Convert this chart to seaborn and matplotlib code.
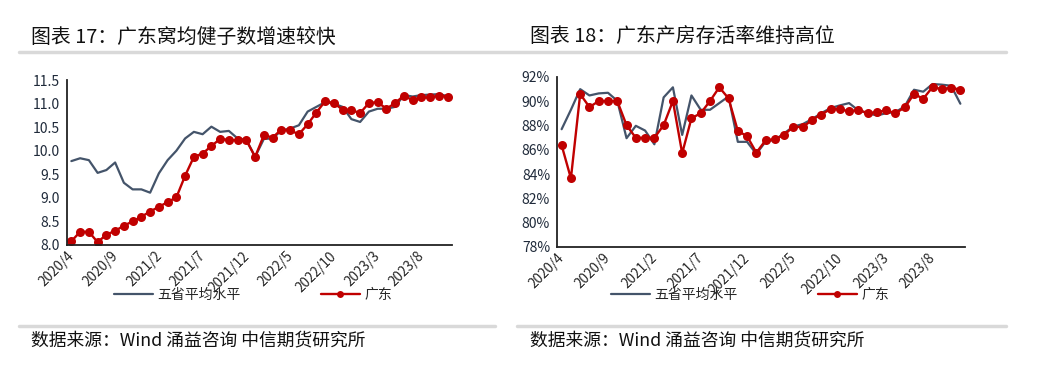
import numpy as np
import pandas as pd
import matplotlib.pyplot as plt
import seaborn as sns
from matplotlib.lines import Line2D

# === 1. Dados ===
meses = pd.period_range("2020-04", "2023-11", freq="M")
rotulos_meses = [f"{p.year}/{p.month}" for p in meses]

ninhada_gd = [8.08, 8.28, 8.28, 8.06, 8.22, 8.30, 8.41, 8.50, 8.60, 8.71,
              8.81, 8.91, 9.01, 9.47, 9.87, 9.94, 10.10, 10.25, 10.23, 10.22,
              10.22, 9.87, 10.33, 10.28, 10.45, 10.43, 10.35, 10.56, 10.81, 11.05,
              11.01, 10.87, 10.86, 10.80, 11.01, 11.03, 10.89, 11.01, 11.17, 11.07,
              11.13, 11.13, 11.17, 11.15]
ninhada_media = [9.78, 9.84, 9.80, 9.53, 9.59, 9.75, 9.32, 9.18, 9.18, 9.11,
                 9.52, 9.80, 10.00, 10.26, 10.40, 10.35, 10.51, 10.40, 10.42, 10.26,
                 10.23, 9.87, 10.25, 10.26, 10.43, 10.47, 10.54, 10.83, 10.93, 11.03,
                 11.00, 10.93, 10.67, 10.61, 10.83, 10.89, 10.89, 10.93, 11.18, 11.15,
                 11.18, 11.19, 11.20, 11.16]

sobrev_gd = [86.38, 83.65, 90.60, 89.52, 90.02, 90.02, 90.02, 88.03, 86.99, 86.99,
             86.99, 88.03, 90.02, 85.72, 88.60, 89.02, 90.02, 91.15, 90.24, 87.56,
             87.12, 85.77, 86.79, 86.88, 87.23, 87.92, 87.86, 88.47, 88.91, 89.36,
             89.36, 89.16, 89.30, 89.02, 89.11, 89.25, 89.02, 89.49, 90.60, 90.21,
             91.17, 91.00, 91.12, 90.95]
sobrev_media = [87.70, 89.30, 91.00, 90.48, 90.65, 90.70, 90.04, 86.96, 87.98, 87.59,
                86.46, 90.32, 91.15, 87.23, 90.48, 89.30, 89.30, 89.85, 90.40, 86.66,
                86.66, 85.66, 86.69, 86.82, 87.37, 87.92, 88.12, 88.53, 89.02, 89.44,
                89.66, 89.85, 89.25, 89.02, 88.83, 89.02, 89.11, 89.58, 90.95, 90.79,
                91.42, 91.37, 91.28, 89.80]

titulos = ["图表 17：广东窝均健子数增速较快", "图表 18：广东产房存活率维持高位"]
fonte = "数据来源：Wind 涌益咨询 中信期货研究所"
nome_media = "五省平均水平"
nome_gd = "广东"

# === 2. Estilo ===
sns.set_style("white")
plt.rcParams["font.family"] = ["Noto Sans CJK SC", "DejaVu Sans"]
plt.rcParams["axes.unicode_minus"] = False

COR_CINZA = "#44546A"
COR_VERM = "#C00000"
W, H = 1054, 378

fig = plt.figure(figsize=(W / 100, H / 100), dpi=100)


def eixo_px(x0, y0, x1, y1):
    return fig.add_axes([x0 / W, 1 - y1 / H, (x1 - x0) / W, (y1 - y0) / H])


def painel(ax, media, gd, ylim, yticks, fmt):
    x = np.arange(len(media))
    df = pd.DataFrame({"x": x, "media": media, "gd": gd})
    sns.lineplot(data=df, x="x", y="media", ax=ax, color=COR_CINZA, linewidth=1.6)
    sns.lineplot(data=df, x="x", y="gd", ax=ax, color=COR_VERM, linewidth=1.7,
                 marker="o", markersize=6.5, markeredgewidth=0)
    ax.set_xlim(-0.5, len(media) - 0.5)
    ax.set_ylim(*ylim)
    pos = np.arange(0, len(media), 5)
    ax.set_xticks(pos - 0.5)
    ax.set_xticklabels([rotulos_meses[i] for i in pos], rotation=45, ha="right",
                       va="top", rotation_mode="anchor", fontsize=9.8)
    ax.set_yticks(yticks)
    ax.set_yticklabels([fmt(v) for v in yticks], fontsize=10, color="#1F2A3A")
    ax.set_xlabel("")
    ax.set_ylabel("")
    for s in ["top", "right"]:
        ax.spines[s].set_visible(False)
    for s in ["left", "bottom"]:
        ax.spines[s].set_color("#222222")
        ax.spines[s].set_linewidth(1.3)
    ax.tick_params(axis="x", direction="in", length=4, width=1, pad=3, color="#222222")
    ax.tick_params(axis="y", direction="out", length=2, width=1, pad=3, color="#222222")


ax1 = eixo_px(67, 80, 452, 245)
painel(ax1, ninhada_media, ninhada_gd, (8.0, 11.5), np.arange(8.0, 11.51, 0.5),
       lambda v: f"{v:.1f}")

ax2 = eixo_px(557, 77, 965, 247)
painel(ax2, sobrev_media, sobrev_gd, (78, 92), np.arange(78, 92.1, 2),
       lambda v: f"{v:.0f}%")

# === 3. Legendas ===
handles = [Line2D([], [], color=COR_CINZA, linewidth=1.6),
           Line2D([], [], color=COR_VERM, linewidth=1.7, marker="o", markersize=5,
                  markeredgewidth=0)]
for cx in (253, 750):
    fig.legend(handles, [nome_media, nome_gd], loc="center",
               bbox_to_anchor=(cx / W, 1 - 295 / H), ncol=2, frameon=False,
               fontsize=10, handlelength=2.8, handletextpad=0.3, columnspacing=5.8)

# === 4. Títulos, linhas e fonte ===
for x0, t in zip((31, 530), titulos):
    fig.text(x0 / W, 1 - 37 / H, t, fontsize=14.3, va="center", ha="left", color="#111111")
    fig.text(x0 / W, 1 - 340 / H, fonte, fontsize=12.8, va="center", ha="left",
             color="#111111")

fig.add_artist(Line2D([19 / W, 1006 / W], [1 - 52 / H] * 2, color="#D9D9D9",
                      linewidth=2.5, transform=fig.transFigure))
for x0, x1 in ((19, 495), (517, 1006)):
    fig.add_artist(Line2D([x0 / W, x1 / W], [1 - 326 / H] * 2, color="#D9D9D9",
                          linewidth=2.5, transform=fig.transFigure))

plt.savefig("out.png", dpi=100)
plt.close()
